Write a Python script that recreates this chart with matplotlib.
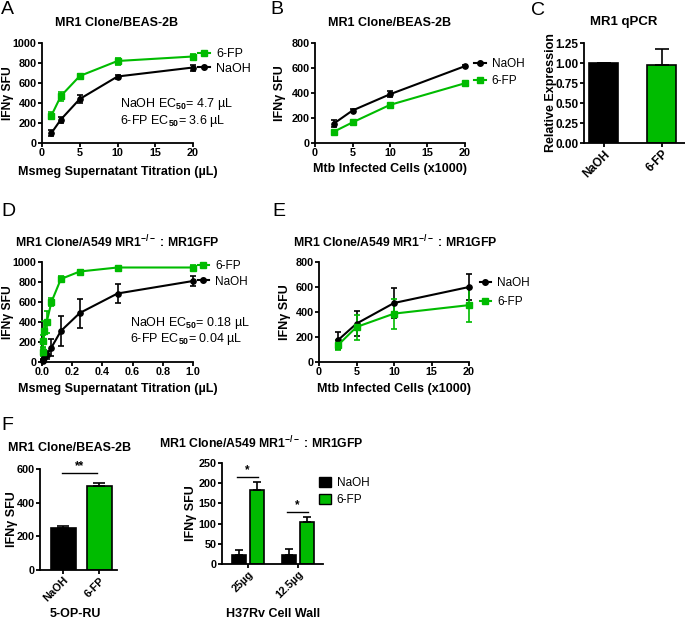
import matplotlib
matplotlib.use('Agg')
import matplotlib.pyplot as plt
from matplotlib.lines import Line2D
from matplotlib.patches import Patch

plt.rcParams['font.family'] = ['Liberation Sans', 'DejaVu Sans']
plt.rcParams['font.weight'] = 'bold'
plt.rcParams['axes.labelweight'] = 'bold'
plt.rcParams['mathtext.fontset'] = 'custom'
plt.rcParams['mathtext.rm'] = 'Liberation Sans'
plt.rcParams['mathtext.it'] = 'Liberation Sans:italic'
plt.rcParams['mathtext.bf'] = 'Liberation Sans:bold'

GREEN = '#00BB00'
IFNG = 'IFNγ SFU'

# panel A - Msmeg supernatant, BEAS-2B
a_x = [1.25, 2.5, 5, 10, 20]
a_fp = [275, 470, 670, 820, 865]
a_fp_err = [35, 45, 25, 35, 30]
a_naoh = [100, 235, 440, 665, 755]
a_naoh_err = [30, 30, 40, 20, 30]

# panel B - Mtb infected cells, BEAS-2B
b_x = [2.5, 5, 10, 20]
b_naoh = [155, 260, 390, 615]
b_naoh_err = [30, 10, 25, 8]
b_fp = [90, 165, 305, 478]
b_fp_err = [8, 8, 8, 12]

# panel C - qPCR
c_labels = ['NaOH', '6-FP']
c_vals = [1.0, 0.975]
c_err = [0.0, 0.195]

# panel D - Msmeg supernatant, A549 MR1-/- : MR1GFP
d_x = [0.0039, 0.0078, 0.0156, 0.03125, 0.0625, 0.125, 0.25, 0.5, 1.0]
d_fp = [100, 210, 310, 400, 600, 830, 905, 945, 945]
d_fp_err = [40, 60, 100, 110, 40, 30, 15, 10, 25]
d_naoh = [10, 20, 40, 70, 145, 310, 490, 685, 810]
d_naoh_err = [10, 15, 30, 40, 85, 150, 145, 95, 50]

# panel E - Mtb infected cells, A549 MR1-/- : MR1GFP
e_x = [2.5, 5, 10, 20]
e_naoh = [173, 307, 472, 600]
e_naoh_err = [65, 100, 120, 105]
e_fp = [133, 280, 387, 455]
e_fp_err = [40, 100, 120, 135]

# panel F left - 5-OP-RU
f1_labels = ['NaOH', '6-FP']
f1_vals = [247, 497]
f1_err = [14, 22]

# panel F right - H37Rv cell wall
f2_groups = ['25µg', '12.5µg']
f2_naoh = [23, 23]
f2_naoh_err = [12, 15]
f2_fp = [184, 105]
f2_fp_err = [20, 11]

W, H = 685, 619
fig = plt.figure(figsize=(W / 100, H / 100), dpi=100)


def box(x0, y0, x1, y1):
    return fig.add_axes([x0 / W, 1 - y1 / H, (x1 - x0) / W, (y1 - y0) / H])


def prism(ax, size=7.8):
    for s in ['top', 'right']:
        ax.spines[s].set_visible(False)
    for s in ['left', 'bottom']:
        ax.spines[s].set_linewidth(1.3)
    ax.tick_params(direction='out', length=3, width=1.3, labelsize=size, pad=0.8)


def curve(ax, x, y, e, color, marker):
    ax.errorbar(x, y, yerr=e, color=color, marker=marker, ms=3.8, lw=1.5,
                elinewidth=1.2, capsize=2.5, capthick=1.2, clip_on=False, zorder=3)


def line_legend(ax, order, x, y, spacing, size=8.5):
    hs = [Line2D([], [], color=c, marker=m, ms=4, lw=1.5) for c, m, _ in order]
    ax.legend(hs, [l for _, _, l in order], loc='upper left', bbox_to_anchor=(x, y),
              frameon=False, borderpad=0, borderaxespad=0, handlelength=1.0,
              handletextpad=0.5, labelspacing=spacing,
              prop={'weight': 'normal', 'size': size})


def ylab(ax, text, x, size=9):
    ax.set_ylabel(text, fontsize=size)
    ax.yaxis.set_label_coords(x, 0.5)


def xlab(ax, text, x, y, size=9):
    ax.set_xlabel(text, fontsize=size)
    ax.xaxis.set_label_coords(x, y)


NA = ('black', 'o', 'NaOH')
FP = (GREEN, 's', '6-FP')

# A
ax = box(42, 43, 193, 143)
prism(ax)
curve(ax, a_x, a_naoh, a_naoh_err, 'black', 'o')
curve(ax, a_x, a_fp, a_fp_err, GREEN, 's')
ax.set_xlim(0, 20)
ax.set_ylim(0, 1000)
ax.set_xticks([0, 5, 10, 15, 20])
ax.set_yticks(range(0, 1001, 200))
ylab(ax, IFNG, -0.185, 8.7)
xlab(ax, 'Msmeg Supernatant Titration (µL)', 0.503, -0.23)
line_legend(ax, [FP, NA], 1.03, 0.95, 0.2, 9)
ax.text(0.517, 0.305, 'NaOH EC$_{50}$= 4.7 µL\n6-FP EC$_{50}$= 3.6 µL', transform=ax.transAxes,
        fontsize=9, weight='normal', va='center', linespacing=1.05)

# B
ax = box(315, 43, 465, 143)
prism(ax)
curve(ax, b_x, b_naoh, b_naoh_err, 'black', 'o')
curve(ax, b_x, b_fp, b_fp_err, GREEN, 's')
ax.set_xlim(0, 20)
ax.set_ylim(0, 800)
ax.set_xticks([0, 5, 10, 15, 20])
ax.set_yticks(range(0, 801, 200))
ylab(ax, IFNG, -0.19)
xlab(ax, 'Mtb Infected Cells (x1000)', 0.5, -0.20)
line_legend(ax, [NA, FP], 1.06, 0.85, 0.45)

# C
ax = box(584, 43, 685, 143)
prism(ax, 8.5)
ax.bar([0, 1], c_vals, width=0.5, color=['black', GREEN], edgecolor='black', lw=1.2,
       yerr=[[0, 0], c_err], error_kw=dict(ecolor='black', elinewidth=1.2, capsize=5, capthick=1.2))
ax.set_xlim(-0.34, 1.4)
ax.set_ylim(0, 1.25)
ax.set_yticks([0, 0.25, 0.5, 0.75, 1.0, 1.25])
ax.set_yticklabels(['0.00', '0.25', '0.50', '0.75', '1.00', '1.25'])
ax.set_xticks([0, 1])
ax.set_xticklabels(c_labels, rotation=45, ha='right', rotation_mode='anchor')
ylab(ax, 'Relative Expression', -0.27)

# D
ax = box(42, 262, 193, 362)
prism(ax)
curve(ax, d_x, d_naoh, d_naoh_err, 'black', 'o')
curve(ax, d_x, d_fp, d_fp_err, GREEN, 's')
ax.set_xlim(0, 1.0)
ax.set_ylim(0, 1000)
ax.set_xticks([0, 0.2, 0.4, 0.6, 0.8, 1.0])
ax.set_xticklabels(['0.0', '0.2', '0.4', '0.6', '0.8', '1.0'])
ax.set_yticks(range(0, 1001, 200))
ylab(ax, IFNG, -0.185, 8.7)
xlab(ax, 'Msmeg Supernatant Titration (µL)', 0.5, -0.21)
line_legend(ax, [FP, NA], 1.03, 1.02, 0.3)
ax.text(0.583, 0.31, 'NaOH EC$_{50}$= 0.18 µL\n6-FP EC$_{50}$= 0.04 µL', transform=ax.transAxes,
        fontsize=9, weight='normal', va='center', linespacing=1.05)

# E
ax = box(319, 262, 469, 362)
prism(ax)
curve(ax, e_x, e_naoh, e_naoh_err, 'black', 'o')
curve(ax, e_x, e_fp, e_fp_err, GREEN, 's')
ax.set_xlim(0, 20)
ax.set_ylim(0, 800)
ax.set_xticks([0, 5, 10, 15, 20])
ax.set_yticks(range(0, 801, 200))
ylab(ax, IFNG, -0.185)
xlab(ax, 'Mtb Infected Cells (x1000)', 0.503, -0.21)
line_legend(ax, [NA, FP], 1.07, 0.85, 0.6)

# F left
ax = box(40, 469, 117, 570)
prism(ax)
ax.bar([0, 1], f1_vals, width=0.7, color=['black', GREEN], edgecolor='black', lw=1.2,
       yerr=[[0, 0], f1_err], error_kw=dict(ecolor='black', elinewidth=1.2, capsize=4, capthick=1.2))
ax.set_xlim(-0.65, 1.49)
ax.set_ylim(0, 600)
ax.set_yticks([0, 200, 400, 600])
ax.set_xticks([0, 1])
ax.set_xticklabels(f1_labels, rotation=45, ha='right', rotation_mode='anchor')
ax.plot([-0.04, 0.93], [576, 576], color='black', lw=1.0, clip_on=False)
ax.text(0.45, 580, '**', ha='center', va='bottom', fontsize=8.5)
ylab(ax, IFNG, -0.29)
xlab(ax, '5-OP-RU', 0.46, -0.376)

# F right
ax = box(222, 463, 323, 564)
prism(ax)
gx = [0, 1]
ax.bar([g - 0.185 for g in gx], f2_naoh, width=0.28, color='black', edgecolor='black', lw=1.2,
       yerr=[[0, 0], f2_naoh_err], error_kw=dict(ecolor='black', elinewidth=1.2, capsize=3, capthick=1.2))
ax.bar([g + 0.185 for g in gx], f2_fp, width=0.28, color=GREEN, edgecolor='black', lw=1.2,
       yerr=[[0, 0], f2_fp_err], error_kw=dict(ecolor='black', elinewidth=1.2, capsize=3, capthick=1.2))
ax.set_xlim(-0.52, 1.5)
ax.set_ylim(0, 250)
ax.set_yticks(range(0, 251, 50))
ax.set_xticks(gx)
ax.set_xticklabels(f2_groups, rotation=45, ha='right', rotation_mode='anchor')
ax.plot([-0.22, 0.2], [215, 215], color='black', lw=1.0, clip_on=False)
ax.text(-0.01, 217, '*', ha='center', va='bottom', fontsize=8.5)
ax.plot([0.78, 1.2], [129, 129], color='black', lw=1.0, clip_on=False)
ax.text(0.99, 131, '*', ha='center', va='bottom', fontsize=8.5)
ylab(ax, IFNG, -0.25)
xlab(ax, 'H37Rv Cell Wall', 0.51, -0.44)
ax.legend([Patch(facecolor='black', edgecolor='black'), Patch(facecolor=GREEN, edgecolor='black')],
          ['NaOH', '6-FP'], loc='upper left', bbox_to_anchor=(0.96, 0.86), frameon=False,
          borderpad=0, borderaxespad=0, handlelength=1.0, handleheight=0.9,
          handletextpad=0.5, labelspacing=0.4, prop={'weight': 'normal', 'size': 8.5})

# titles
titles = [
    (117, 23, 'MR1 Clone/BEAS-2B', 9),
    (390, 23, 'MR1 Clone/BEAS-2B', 9),
    (623.5, 22.5, 'MR1 qPCR', 9.5),
    (117.5, 241.5, r'MR1 Clone/A549 MR1$^{-/-}$ : MR1GFP', 8.8),
    (395, 242.5, r'MR1 Clone/A549 MR1$^{-/-}$ : MR1GFP', 8.8),
    (70, 448, 'MR1 Clone/BEAS-2B', 9),
    (261.5, 442.5, r'MR1 Clone/A549 MR1$^{-/-}$ : MR1GFP', 8.8),
]
for x, y, t, s in titles:
    fig.text(x / W, 1 - y / H, t, ha='center', va='center', fontsize=s)

# panel letters
for x, y, t in [(1, 1, 'A'), (270, 1, 'B'), (531, 2, 'C'), (1, 203, 'D'),
                (272, 203, 'E'), (1, 417, 'F')]:
    fig.text(x / W, 1 - y / H, t, ha='left', va='top', fontsize=14, weight='normal')

fig.savefig('out.png', dpi=100)
